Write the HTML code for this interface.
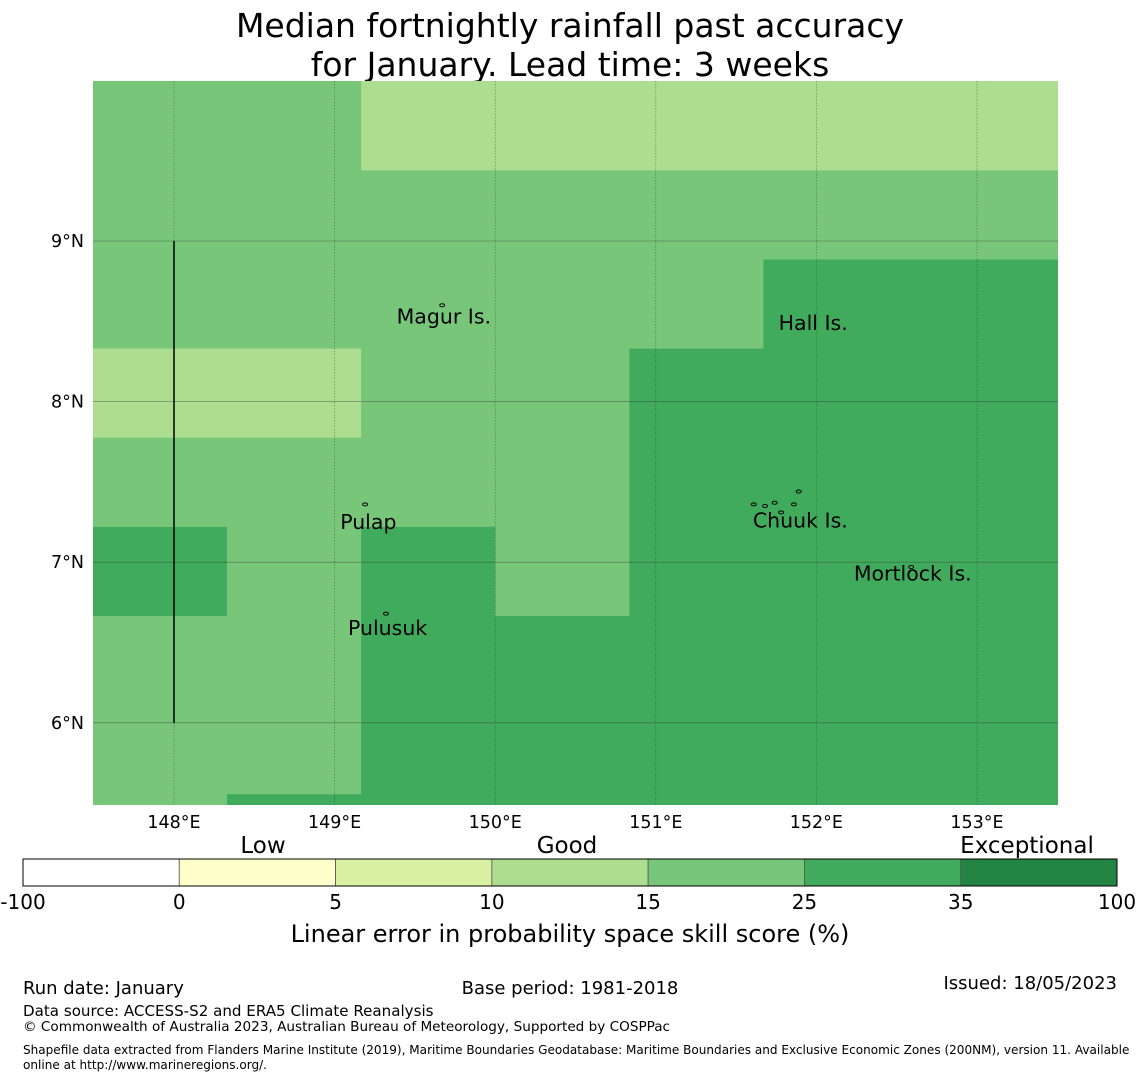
<!DOCTYPE html>
<html><head><meta charset="utf-8"><style>
body{margin:0;background:#fff;width:1140px;height:1080px;overflow:hidden;font-family:"Liberation Sans","DejaVu Sans",sans-serif;}
svg text{font-family:"DejaVu Sans","Liberation Sans",sans-serif;}
</style></head><body>
<svg id="chart" width="1140" height="1080" xmlns="http://www.w3.org/2000/svg">
<text x="570" y="37" font-size="33" text-anchor="middle">Median fortnightly rainfall past accuracy</text>
<text x="570" y="76" font-size="33" text-anchor="middle">for January. Lead time: 3 weeks</text>
<g id="map"></g>
<g id="cbar"></g>
<text x="570" y="942" font-size="24" text-anchor="middle">Linear error in probability space skill score (%)</text>
<text x="23" y="994" font-size="18">Run date: January</text>
<text x="570" y="994" font-size="18" text-anchor="middle">Base period: 1981-2018</text>
<text x="1117" y="989" font-size="18" text-anchor="end">Issued: 18/05/2023</text>
<text x="23" y="1016" font-size="15.1">Data source: ACCESS-S2 and ERA5 Climate Reanalysis</text>
<text x="23" y="1031" font-size="13.6">© Commonwealth of Australia 2023, Australian Bureau of Meteorology, Supported by COSPPac</text>
<text x="23" y="1054" font-size="12.05">Shapefile data extracted from Flanders Marine Institute (2019), Maritime Boundaries Geodatabase: Maritime Boundaries and Exclusive Economic Zones (200NM), version 11. Available</text>
<text x="23" y="1069" font-size="12.05">online at http://www.marineregions.org/.</text>
</svg>
<script>
// grid data: skill score per cell, rows top->bottom, cols left->right
const lonEdges=[147.495,148.33,149.165,150.0,150.835,151.67,152.505,153.34,153.51];
const latEdges=[10.0,9.44,8.885,8.33,7.775,7.22,6.665,6.11,5.555,5.49];
const row0=[20,20,12,12,12,12,12,12];
const row1=[20,20,20,20,20,20,20,20];
const row2=[20,20,20,20,20,30,30,30];
const row3=[12,12,20,20,30,30,30,30];
const row4=[20,20,20,20,30,30,30,30];
const row5=[30,20,30,20,30,30,30,30];
const row6=[20,20,30,30,30,30,30,30];
const row7=[20,20,30,30,30,30,30,30];
const row8=[20,30,30,30,30,30,30,30];
const rows=[row0,row1,row2,row3,row4,row5,row6,row7,row8];
const binEdges=[-100,0,5,10,15,25,35,100];
const binColors=["#ffffff","#ffffcc","#d9f0a3","#addd8e","#78c679","#41ab5d","#238443"];
const lonTicks=[148,149,150,151,152,153];
const latTicks=[9,8,7,6];
const places=["Magur Is.","Hall Is.","Pulap","Chuuk Is.","Mortlock Is.","Pulusuk"];
const placeLon=[149.68,151.98,149.21,151.9,152.6,149.33];
const placeLat=[8.53,8.49,7.25,7.26,6.93,6.59];
const islandLon=[149.67,149.19,149.32,151.61,151.68,151.74,151.86,151.89,151.78,152.59];
const islandLat=[8.6,7.36,6.68,7.36,7.35,7.37,7.36,7.44,7.31,6.97];
const catLabels=["Low","Good","Exceptional"];
const catX=[263,567,1027];

const X0=93,X1=1058,Y0=81,Y1=805;
const xs=lon=>174+(lon-148)*160.6;
const ys=lat=>241+(9-lat)*160.6;
const NS="http://www.w3.org/2000/svg";
function mk(tag,attrs,parent){const e=document.createElementNS(NS,tag);for(const k in attrs)e.setAttribute(k,attrs[k]);parent.appendChild(e);return e;}
function colorFor(v){for(let i=0;i<binColors.length;i++){if(v<binEdges[i+1])return binColors[i];}return binColors[binColors.length-1];}
const map=document.getElementById('map');
const clip=mk('clipPath',{id:'mc'},map);mk('rect',{x:X0,y:Y0,width:X1-X0,height:Y1-Y0},clip);
const cells=mk('g',{'clip-path':'url(#mc)'},map);
rows.forEach((r,ri)=>r.forEach((v,ci)=>{
  const x=xs(lonEdges[ci]),x2=xs(lonEdges[ci+1]),y=ys(latEdges[ri]),y2=ys(latEdges[ri+1]);
  const c=mk('rect',{x:x,y:y,width:x2-x+0.5,height:y2-y+0.5,fill:colorFor(v)},cells);
  
  
}));
lonTicks.forEach(l=>{
  const x=xs(l);
  const g=mk('line',{x1:x,x2:x,y1:Y0,y2:Y1,stroke:'#333','stroke-width':0.6,'stroke-dasharray':'1.5,1.5',opacity:0.6},map);
  
  
  const t=mk('text',{x:x,y:828,'font-size':17.5,'text-anchor':'middle'},map);t.textContent=l+'°E';
  
  
});
latTicks.forEach(l=>{
  const y=ys(l);
  const g=mk('line',{x1:X0,x2:X1,y1:y,y2:y,stroke:'#333','stroke-width':0.6,opacity:0.6},map);
  
  
  const t=mk('text',{x:84,y:y+6,'font-size':17.5,'text-anchor':'end'},map);t.textContent=l+'°N';
  
  
});
const bl=mk('line',{x1:xs(148),x2:xs(148),y1:ys(9),y2:ys(6),stroke:'#000','stroke-width':1.5},map);


islandLon.forEach((lo,i)=>{
  const e=mk('ellipse',{cx:xs(lo),cy:ys(islandLat[i]),rx:2.5,ry:1.5,fill:'none',stroke:'#000','stroke-width':1},map);
  
  
});
places.forEach((p,i)=>{
  const t=mk('text',{x:xs(placeLon[i]),y:ys(placeLat[i])+7,'font-size':20.5,'text-anchor':'middle'},map);t.textContent=p;
  
  
});
// colorbar
const cb=document.getElementById('cbar');
const CX=23,CW=1094,CY=859,CH=27,n=binColors.length,sw=CW/n;
binColors.forEach((c,i)=>{
  const r=mk('rect',{x:CX+i*sw,y:CY,width:sw,height:CH,fill:c,stroke:'#555','stroke-width':0.8},cb);
  
  
});
mk('rect',{x:CX,y:CY,width:CW,height:CH,fill:'none',stroke:'#000','stroke-width':1},cb);
binEdges.forEach((b,i)=>{
  const t=mk('text',{x:CX+i*sw,y:909,'font-size':20,'text-anchor':'middle'},cb);t.textContent=b;
  
  
});
catLabels.forEach((c,i)=>{
  const t=mk('text',{x:catX[i],y:853,'font-size':23,'text-anchor':'middle'},cb);t.textContent=c;
  
  
});
</script>
</body></html>
